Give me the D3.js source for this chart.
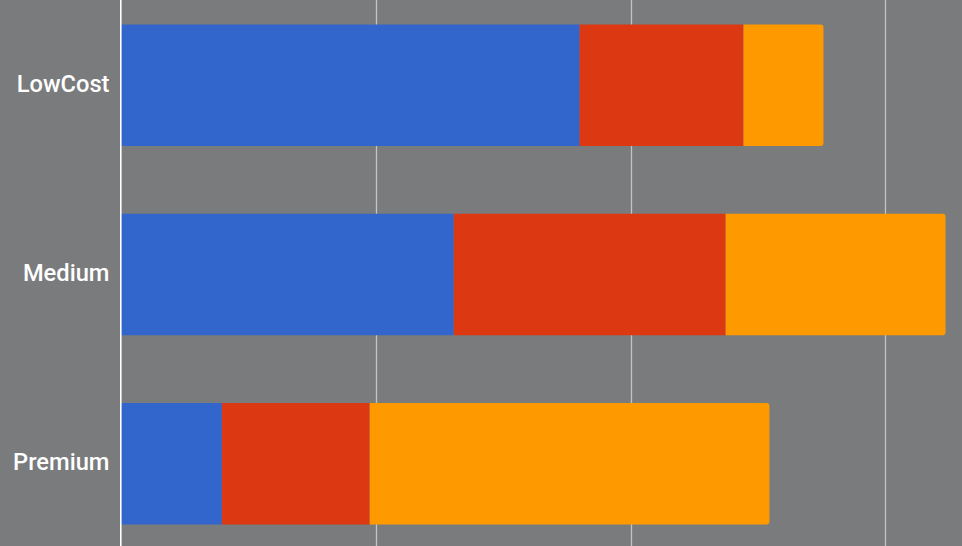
<!DOCTYPE html>
<html><head><meta charset="utf-8">
<script src="https://cdn.jsdelivr.net/npm/d3@7"></script>
<style>
html,body{margin:0;padding:0;background:#7a7b7c;overflow:hidden}
</style></head>
<body>
<svg id="chart" width="962" height="546"></svg>
<script>
const categories = ["LowCost", "Medium", "Premium"];
const seriesNames = ["Series A", "Series B", "Series C"];
const seriesA = [180, 130.6, 39.6];
const seriesB = [64.3, 106.7, 58.0];
const seriesC = [31.4, 86.3, 156.9];
const tickValues = [0, 100, 200, 300];
const colors = ["#3366cc", "#dc3912", "#ff9900"];

const W = 962, H = 546;
const svg = d3.select("#chart");
svg.append("rect").attr("width", W).attr("height", H).attr("fill", "#7a7b7c");

const x = d3.scaleLinear().domain([0, 330]).range([121, 121 + 3.3 * 254.8]);
const y = d3.scaleBand().domain(categories).range([-9.5, 558.5]).paddingInner(0.359).paddingOuter(0.18);

// gridlines
svg.append("g").selectAll("line").data(tickValues.filter(v => v > 0)).join("line")
  .attr("x1", d => Math.round(x(d)) + 0.5).attr("x2", d => Math.round(x(d)) + 0.5)
  .attr("y1", 0).attr("y2", H)
  .attr("stroke", "#c4c4c4").attr("stroke-width", 1.3);

const data = categories.map((c, i) => ({cat: c, vals: [seriesA[i], seriesB[i], seriesC[i]]}));
const stacked = d3.stack().keys([0, 1, 2]).value((d, k) => d.vals[k])(data);

const r = 3;
stacked.forEach((layer, k) => {
  svg.append("g").selectAll("path").data(layer).join("path")
    .attr("fill", colors[k])
    .attr("d", d => {
      const x0 = x(d[0]), x1 = x(d[1]);
      const y0 = y(d.data.cat), y1 = y0 + y.bandwidth();
      if (k === 2) {
        return `M${x0},${y0}H${x1 - r}Q${x1},${y0} ${x1},${y0 + r}V${y1 - r}Q${x1},${y1} ${x1 - r},${y1}H${x0}Z`;
      }
      return `M${x0},${y0}H${x1}V${y1}H${x0}Z`;
    });
});

// baseline axis
svg.append("line").attr("x1", 120.8).attr("x2", 120.8).attr("y1", 0).attr("y2", H)
  .attr("stroke", "#ffffff").attr("stroke-width", 1.6);

// category labels
const yAxis = d3.axisLeft(y).tickSize(0).tickPadding(0);
const gy = svg.append("g").attr("transform", "translate(109.5,0)").call(yAxis);
gy.select(".domain").remove();
gy.selectAll("text").attr("fill", "#ffffff").attr("dy", "0.28em")
  .style("font-family", "Roboto, Arial, sans-serif").style("font-size", "23.7px").style("font-weight", "500");
</script>
</body></html>
